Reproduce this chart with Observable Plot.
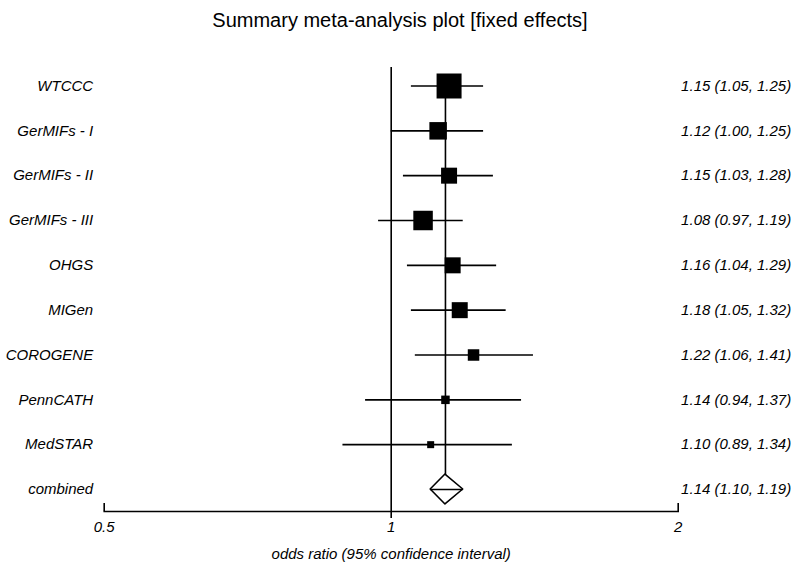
<!DOCTYPE html>
<html><head><meta charset="utf-8">
<script src="https://cdn.jsdelivr.net/npm/d3@7"></script>
<script src="https://cdn.jsdelivr.net/npm/@observablehq/plot@0.6"></script>
<style>
body{margin:0;background:#fff;font-family:"Liberation Sans",Arial,sans-serif;}
#title{height:40px;line-height:40px;font-size:20px;text-align:center;color:#000;}
</style></head><body>
<div id="title">Summary meta-analysis plot [fixed effects]</div>
<div id="chart"></div>
<script>
const studies = ["WTCCC","GerMIFs - I","GerMIFs - II","GerMIFs - III","OHGS","MIGen","COROGENE","PennCATH","MedSTAR"];
const oddsRatios = [1.15,1.12,1.15,1.08,1.16,1.18,1.22,1.14,1.10];
const lower = [1.05,1.00,1.03,0.97,1.04,1.05,1.06,0.94,0.89];
const upper = [1.25,1.25,1.28,1.19,1.29,1.32,1.41,1.37,1.34];
const weights = [20,14,12.8,15.6,12.8,12.8,9.2,6.8,5.6];
const combinedLabel = "combined";
const combined = [1.14,1.10,1.19];
const ticks = [0.5,1,2];
const axisLabel = "odds ratio (95% confidence interval)";

const rows = studies.map((s,i)=>({name:s,i,or:oddsRatios[i],lo:lower[i],hi:upper[i],w:weights[i]}));
const combRow = {name:combinedLabel,i:studies.length,or:combined[0],lo:combined[1],hi:combined[2]};
const all = [...rows, combRow];
const fmt = d3.format(".2f");
const dh = 0.334;
const diamond = [
  {y:combRow.i-dh,x1:combRow.or,x2:combRow.or},
  {y:combRow.i,x1:combRow.lo,x2:combRow.hi},
  {y:combRow.i+dh,x1:combRow.or,x2:combRow.or}
];
const sw = 1.6;
const font = "Liberation Sans, Arial, sans-serif";
const plot = Plot.plot({
  width:800, height:533,
  marginLeft:103.7, marginRight:122.3, marginTop:27, marginBottom:62,
  x:{type:"log", domain:[0.5,2]},
  y:{domain:[0,9], range:[45.5,449], axis:null},
  r:{type:"linear", domain:[0,20], range:[0,25/Math.sqrt(Math.PI)]},
  style:{fontFamily:font, background:"white", color:"black"},
  marks:[
    Plot.ruleX([1], {stroke:"black", strokeWidth:sw, insetBottom:-7}),
    Plot.ruleX([combRow], {x:"or", y1:0, y2:"i", stroke:"black", strokeWidth:sw}),
    Plot.ruleY(rows, {x1:"lo", x2:"hi", y:"i", stroke:"black", strokeWidth:sw}),
    Plot.dot(rows, {x:"or", y:"i", r:"w", symbol:"square", fill:"black", stroke:null}),
    Plot.areaX(diamond, {y:"y", x1:"x1", x2:"x2", fill:"white", stroke:"black", strokeWidth:sw}),
    Plot.ruleY([combRow], {x1:"lo", x2:"hi", y:"i", stroke:"black", strokeWidth:sw}),
    Plot.frame({anchor:"bottom", stroke:"black", strokeWidth:sw}),
    Plot.ruleX([0.5,2], {insetTop:436, stroke:"black", strokeWidth:sw}),
    Plot.axisX({ticks:ticks, tickSize:0, tickPadding:10, tickFormat:d=>String(d), fontSize:15, fontStyle:"italic", label:null}),
    Plot.text(all, {y:"i", text:"name", frameAnchor:"left", textAnchor:"end", dx:-11, fontSize:15, fontStyle:"italic"}),
    Plot.text(all, {y:"i", text:d=>`${fmt(d.or)} (${fmt(d.lo)}, ${fmt(d.hi)})`, frameAnchor:"right", textAnchor:"end", dx:113, fontSize:15, fontStyle:"italic"}),
    Plot.text([axisLabel], {text:d=>d, frameAnchor:"bottom", dy:47, fontSize:15, fontStyle:"italic"})
  ]
});
document.getElementById("chart").appendChild(plot);
</script></body></html>
